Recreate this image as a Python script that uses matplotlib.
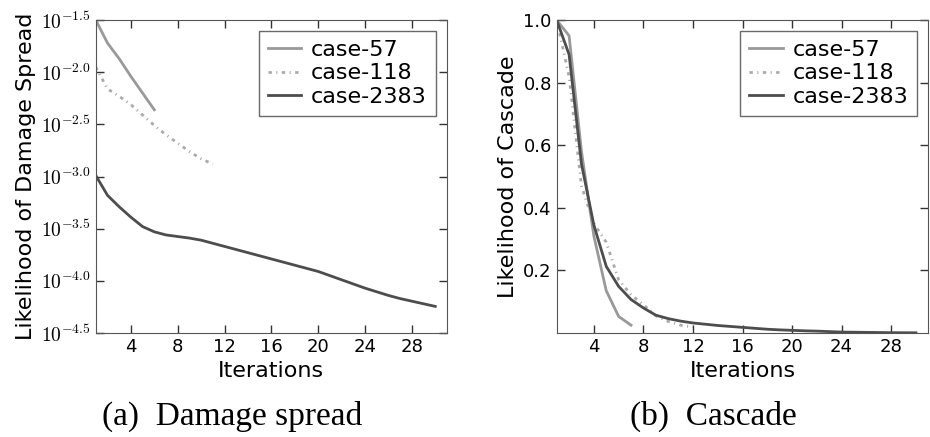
import matplotlib
matplotlib.use('Agg')
import matplotlib.pyplot as plt
import numpy as np

plt.rcParams['mathtext.fontset'] = 'cm'
plt.rcParams['font.family'] = 'DejaVu Sans'

# (a) damage spread, log10 of likelihood per iteration
dmg_57_log = [-1.50, -1.72, -1.87, -2.04, -2.20, -2.36]
dmg_118_log = [-1.95, -2.16, -2.23, -2.31, -2.41, -2.51, -2.60, -2.68, -2.76, -2.83, -2.88]
dmg_2383_log = [-2.99, -3.18, -3.29, -3.39, -3.48, -3.53, -3.56, -3.575, -3.59, -3.61,
                -3.64, -3.67, -3.70, -3.73, -3.76, -3.79, -3.82, -3.85, -3.88, -3.91,
                -3.95, -3.99, -4.03, -4.07, -4.105, -4.14, -4.17, -4.195, -4.22, -4.245]

# (b) likelihood of cascade per iteration
cas_57 = [1.0, 0.95, 0.58, 0.31, 0.135, 0.053, 0.025]
cas_118 = [1.0, 0.82, 0.47, 0.35, 0.29, 0.17, 0.122, 0.09, 0.055, 0.037, 0.025, 0.019]
cas_2383 = [1.0, 0.89, 0.54, 0.345, 0.213, 0.149, 0.107, 0.08, 0.057, 0.046, 0.038, 0.032,
            0.028, 0.024, 0.021, 0.018, 0.015, 0.012, 0.010, 0.0085, 0.007, 0.006, 0.0045,
            0.003, 0.0025, 0.002, 0.0015, 0.001, 0.0008, 0.0006]

labels = ['case-57', 'case-118', 'case-2383']
colors = ['#999999', '#aaaaaa', '#4d4d4d']
styles = ['-', (0, (1.2, 1.6, 0.4, 1.6)), '-']
xticks = [4, 8, 12, 16, 20, 24, 28]

fig = plt.figure(figsize=(9.3, 4.37), dpi=100)
ax1 = fig.add_axes([0.103, 0.238, 0.3776, 0.716])
ax2 = fig.add_axes([0.5986, 0.238, 0.3996, 0.716])

series_a = [dmg_57_log, dmg_118_log, dmg_2383_log]
for vals, lab, c, ls in zip(series_a, labels, colors, styles):
    x = np.arange(1, len(vals) + 1)
    ax1.plot(x, 10 ** np.array(vals), color=c, linestyle=ls, lw=2, label=lab)
ax1.set_yscale('log')
ax1.set_ylim(10 ** -4.5, 10 ** -1.5)
yt = np.arange(-4.5, -1.4, 0.5)
ax1.set_yticks(10 ** yt)
ax1.set_yticklabels([r'$10^{%.1f}$' % v for v in yt], fontsize=14)
ax1.minorticks_off()
ax1.set_ylabel('Likelihood of Damage Spread', fontsize=16)

series_b = [cas_57, cas_118, cas_2383]
for vals, lab, c, ls in zip(series_b, labels, colors, styles):
    x = np.arange(1, len(vals) + 1)
    ax2.plot(x, vals, color=c, linestyle=ls, lw=2, label=lab)
ax2.set_ylim(0, 1.0)
ax2.set_yticks([0.2, 0.4, 0.6, 0.8, 1.0])
ax2.set_yticklabels(['0.2', '0.4', '0.6', '0.8', '1.0'], fontsize=13)
ax2.set_ylabel('Likelihood of Cascade', fontsize=16)

for ax in (ax1, ax2):
    ax.set_xlim(1, 31)
    ax.set_xticks(xticks)
    ax.set_xticklabels([str(t) for t in xticks], fontsize=13)
    ax.set_xlabel('Iterations', fontsize=16)
    ax.tick_params(direction='in', top=True, right=True, length=6, width=1, color='#333333')
    for s in ax.spines.values():
        s.set_color('#555555')
    leg = ax.legend(loc='upper right', fontsize=16, fancybox=False, handlelength=1.5,
                    borderpad=0.4, labelspacing=0.15, handletextpad=0.45, borderaxespad=0.5)
    leg.get_frame().set_edgecolor('#444444')
    leg.get_frame().set_linewidth(1)

fig.text(0.25, 0.048, '(a)  Damage spread', ha='center', va='center',
         family='Liberation Serif', fontsize=24)
fig.text(0.767, 0.048, '(b)  Cascade', ha='center', va='center',
         family='Liberation Serif', fontsize=24)

fig.savefig('out.png', dpi=100)
